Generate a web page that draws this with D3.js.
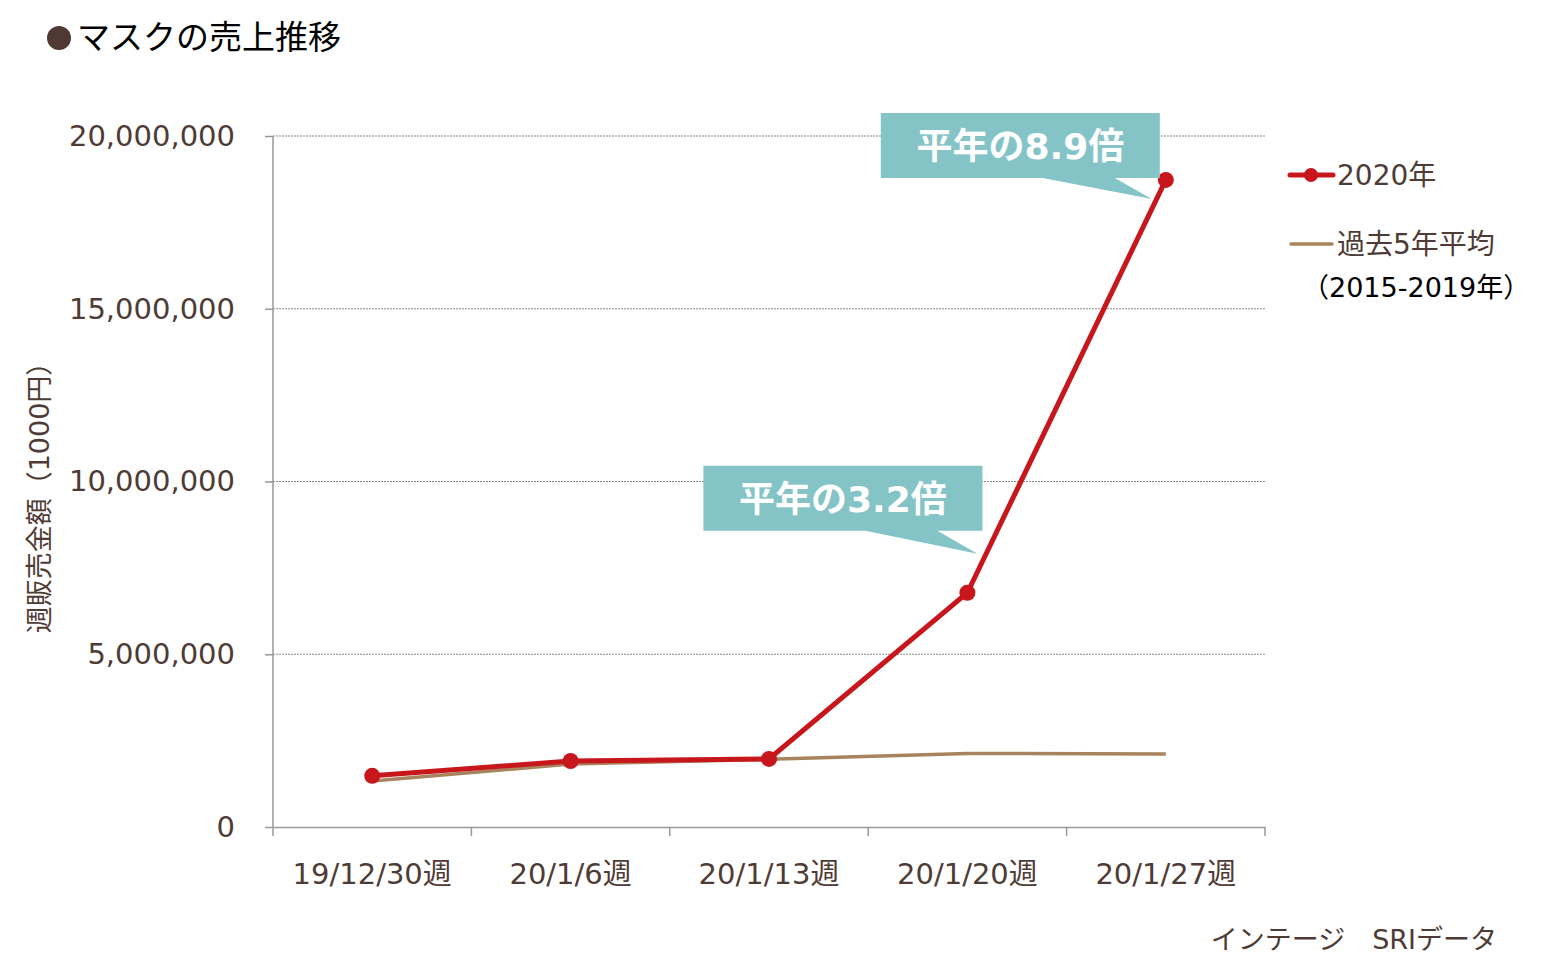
<!DOCTYPE html>
<html lang="ja">
<head>
<meta charset="UTF-8">
<title>マスクの売上推移</title>
<style>
  body { margin: 0; background: #fff; }
  text { font-family: "DejaVu Sans", "Noto Sans CJK JP", sans-serif; }
</style>
</head>
<body>
<svg id="svg" width="1563" height="978"></svg>
<script src="https://cdn.jsdelivr.net/npm/d3@7"></script>
<script>
const weeks = ['19/12/30週', '20/1/6週', '20/1/13週', '20/1/20週', '20/1/27週']
const sales2020 = [1480000, 1910000, 1970000, 6780000, 18730000]
const avg5yr = [1330000, 1820000, 1960000, 2130000, 2110000]
const yTicks = [0, 5000000, 10000000, 15000000, 20000000]
const callouts = [
  { text: '平年の3.2倍', idx: 3 },
  { text: '平年の8.9倍', idx: 4 }
]

const margin = { top: 136, right: 298, bottom: 151, left: 273 }
const width = 1563 - margin.left - margin.right
const height = 978 - margin.top - margin.bottom

const brown = '#4f3b35'
const red = '#c8161d'
const tan = '#a8845e'
const teal = '#84c4c7'

const svg = d3.select('#svg')

// title
svg.append('circle').attr('cx', 59).attr('cy', 38).attr('r', 12).attr('fill', '#4f3932')
svg.append('text').attr('x', 77).attr('y', 49).attr('font-size', 33).attr('fill', '#000')
  .attr('font-family', '"Noto Sans CJK JP", sans-serif')
  .text('マスクの売上推移')

const x = d3.scaleBand().domain(weeks).range([margin.left, margin.left + width])
const y = d3.scaleLinear().domain([0, 20000000]).range([margin.top + height, margin.top])

// gridlines
svg.append('g').selectAll('line').data(yTicks.slice(1)).enter().append('line')
  .attr('x1', margin.left).attr('x2', margin.left + width)
  .attr('y1', d => y(d)).attr('y2', d => y(d))
  .attr('stroke', '#8a8a8a').attr('stroke-width', 1).attr('stroke-dasharray', '2,1')

// left axis
const leftAxis = d3.axisLeft(y).tickValues(yTicks).tickFormat(d3.format(',')).tickSize(8).tickPadding(30)
const gy = svg.append('g').attr('transform', `translate(${margin.left}, 0)`).call(leftAxis)
gy.select('.domain').attr('stroke', '#999').attr('stroke-width', 1.5).attr('d', `M0,${margin.top}V${margin.top + height}`)
gy.selectAll('.tick line').attr('stroke', '#999').attr('stroke-width', 1.5)
gy.selectAll('.tick text').attr('font-size', 29).attr('fill', brown)
  .attr('font-family', '"DejaVu Sans", sans-serif')

// bottom axis
const bottomAxis = d3.axisBottom(x).tickSize(0).tickPadding(36)
const gx = svg.append('g').attr('transform', `translate(0, ${margin.top + height})`).call(bottomAxis)
gx.select('.domain').attr('stroke', '#999').attr('stroke-width', 1.5)
gx.selectAll('.tick text').attr('font-size', 29).attr('fill', brown)
  .attr('font-family', '"DejaVu Sans", "Noto Sans CJK JP", sans-serif')
// band ticks
const bounds = weeks.map(w => x(w)).concat([margin.left + width])
svg.append('g').selectAll('line').data(bounds).enter().append('line')
  .attr('x1', d => d).attr('x2', d => d)
  .attr('y1', margin.top + height).attr('y2', margin.top + height + 9)
  .attr('stroke', '#999').attr('stroke-width', 1.5)

const cx = d => x(d) + x.bandwidth() / 2
const line = d3.line().x(d => cx(d[0])).y(d => y(d[1]))

// average line
svg.append('path').datum(weeks.map((w, i) => [w, avg5yr[i]]))
  .attr('d', line).attr('fill', 'none').attr('stroke', tan).attr('stroke-width', 3.5)

// 2020 line
svg.append('path').datum(weeks.map((w, i) => [w, sales2020[i]]))
  .attr('d', line).attr('fill', 'none').attr('stroke', red).attr('stroke-width', 5)
svg.append('g').selectAll('circle').data(weeks).enter().append('circle')
  .attr('cx', d => cx(d)).attr('cy', (d, i) => y(sales2020[i])).attr('r', 8).attr('fill', red)

// callouts
callouts.forEach(c => {
  const ptx = cx(weeks[c.idx])
  const pty = y(sales2020[c.idx])
  let bx, by, tx, ty
  if (c.idx === 4) {
    bx = ptx - 285; by = pty - 67; tx = ptx - 14; ty = pty + 19
  } else {
    bx = ptx - 264; by = pty - 127; tx = ptx + 10; ty = pty - 39
  }
  const g = svg.append('g')
  g.append('path')
    .attr('d', `M${bx},${by}H${bx + 279}V${by + 65}H${bx + 234}L${tx},${ty}L${bx + 162},${by + 65}H${bx}Z`)
    .attr('fill', teal)
  g.append('text').attr('x', bx + 139.5).attr('y', by + 46).attr('text-anchor', 'middle')
    .attr('font-size', 36).attr('font-weight', 'bold').attr('fill', '#fff').text(c.text)
})

// y label
svg.append('text').attr('transform', `translate(49, 491) rotate(-90)`)
  .attr('text-anchor', 'middle').attr('font-size', 27).attr('fill', brown)
  .text('週販売金額（1000円）')

// legend
const lg = svg.append('g')
lg.append('line').attr('x1', 1290).attr('x2', 1333).attr('y1', 175).attr('y2', 175)
  .attr('stroke', red).attr('stroke-width', 5).attr('stroke-linecap', 'round')
lg.append('circle').attr('cx', 1311).attr('cy', 175).attr('r', 7).attr('fill', red)
lg.append('text').attr('x', 1337).attr('y', 185).attr('font-size', 28).attr('fill', brown).text('2020年')
lg.append('line').attr('x1', 1291).attr('x2', 1332).attr('y1', 244).attr('y2', 244)
  .attr('stroke', tan).attr('stroke-width', 3.5).attr('stroke-linecap', 'round')
lg.append('text').attr('x', 1337).attr('y', 254).attr('font-size', 28).attr('fill', brown).text('過去5年平均')
lg.append('text').attr('x', 1302).attr('y', 297).attr('font-size', 27).attr('fill', '#000').text('（2015-2019年）')

// source
svg.append('text').attr('x', 1497).attr('y', 949).attr('text-anchor', 'end')
  .attr('font-size', 27).attr('fill', brown).text('インテージ　SRIデータ')
</script>
</body>
</html>
